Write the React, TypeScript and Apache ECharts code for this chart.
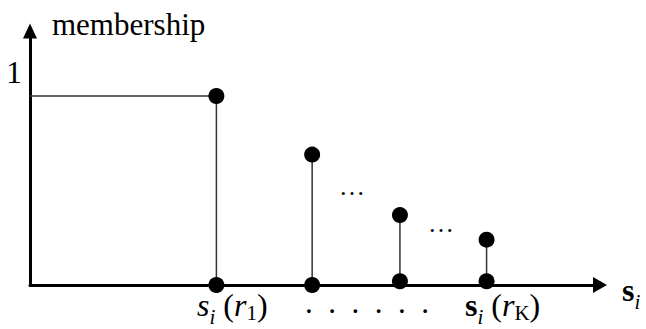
import React, { useEffect, useRef } from "react";
import * as echarts from "echarts";

// positions of the sampled points along the s axis (arbitrary units 0..100)
const stemX = [32.7, 49.5, 64.9, 80.1];
// membership values at the top of each stem
const topValues = [1, 0.69, 0.37, 0.24];
// dots drawn on / near the s axis
const baseValues = [0, 0, 0.02, 0.02];
const yTickLabels = ["1"];
const yLabelValue = 1;

const FONT = "'Liberation Serif', 'Times New Roman', serif";

export default function App() {
  const ref = useRef<HTMLDivElement>(null);
  useEffect(() => {
    if (!ref.current) return;
    const chart = echarts.init(ref.current, null, { renderer: "svg" });
    const topPts = stemX.map((x, i) => [x, topValues[i]]);
    const basePts = stemX.map((x, i) => [x, baseValues[i]]);
    const sub = { fontFamily: FONT, fontSize: 21, fontStyle: "italic", color: "#000", verticalAlign: "bottom", lineHeight: 22, padding: [0, 0, -5, 0] };
    const subN = { fontFamily: FONT, fontSize: 21, color: "#000", verticalAlign: "bottom", lineHeight: 22, padding: [0, 0, -1, 0] };
    const rich = {
      si: { fontFamily: FONT, fontSize: 32, fontStyle: "italic", color: "#000", lineHeight: 34 },
      sb: { fontFamily: FONT, fontSize: 32, fontWeight: "bold", color: "#000", lineHeight: 34 },
      n: { fontFamily: FONT, fontSize: 32, color: "#000", lineHeight: 34 },
      r: { fontFamily: FONT, fontSize: 32, fontStyle: "italic", color: "#000", lineHeight: 34 },
      sub,
      subN,
    };
    chart.setOption({
      animation: false,
      grid: { left: 30, right: 46, top: 31, bottom: 44 },
      xAxis: {
        type: "value",
        min: 0,
        max: 100,
        splitLine: { show: false },
        axisTick: { show: false },
        axisLabel: { show: false },
        axisLine: {
          show: true,
          onZero: false,
          symbol: ["none", "triangle"],
          symbolSize: [16, 14],
          lineStyle: { color: "#000", width: 3 },
        },
      },
      yAxis: {
        type: "value",
        min: 0,
        max: 1.344,
        interval: 1,
        splitLine: { show: false },
        axisTick: { show: false },
        axisLabel: {
          showMaxLabel: false,
          margin: 8,
          fontFamily: FONT,
          fontSize: 32,
          color: "#000",
          verticalAlign: "bottom",
          lineHeight: 32,
          padding: [0, 0, 8, 0],
          formatter: (v: number) => (v === yLabelValue ? yTickLabels[0] : ""),
        },
        axisLine: {
          show: true,
          onZero: false,
          symbol: ["none", "triangle"],
          symbolSize: [14, 15],
          lineStyle: { color: "#000", width: 3 },
        },
      },
      series: [
        {
          type: "line",
          data: [[0, topValues[0]], [stemX[0], topValues[0]]],
          symbol: "none",
          lineStyle: { color: "#333", width: 1.5 },
          z: 1,
        },
        {
          type: "custom",
          data: stemX.map((x, i) => [x, topValues[i], baseValues[i]]),
          renderItem: (params: any, api: any) => {
            const a = api.coord([api.value(0), api.value(2)]);
            const b = api.coord([api.value(0), api.value(1)]);
            return {
              type: "line",
              shape: { x1: a[0], y1: a[1], x2: b[0], y2: b[1] },
              style: { stroke: "#333", lineWidth: 1.5 },
            };
          },
          z: 1,
        },
        {
          type: "scatter",
          data: topPts,
          symbol: "circle",
          symbolSize: 16,
          itemStyle: { color: "#000", opacity: 1 },
          z: 3,
        },
        {
          type: "scatter",
          data: basePts,
          symbol: "circle",
          symbolSize: 16,
          itemStyle: { color: "#000", opacity: 1 },
          z: 3,
        },
      ],
      graphic: [
        {
          type: "text",
          x: 52,
          y: 24,
          style: { text: "membership", font: `31px ${FONT}`, fill: "#000", verticalAlign: "middle" },
        },
        {
          type: "text",
          x: 197,
          y: 305,
          style: { text: "{si|s}{sub|i}{n| (}{r|r}{subN|1}{n|)}", rich, verticalAlign: "middle" },
        },
        {
          type: "text",
          x: 305,
          y: 302,
          style: { text: ".  .  .  .  .  .", font: `31px ${FONT}`, fill: "#000", verticalAlign: "middle" },
        },
        {
          type: "text",
          x: 465,
          y: 305,
          style: { text: "{sb|s}{sub|i}{n| (}{r|r}{subN|K}{n|)}", rich, verticalAlign: "middle" },
        },
        {
          type: "text",
          x: 622,
          y: 290,
          style: { text: "{sb|s}{sub|i}", rich, verticalAlign: "middle" },
        },
        {
          type: "text",
          x: 339,
          y: 186,
          style: { text: "\u2026", font: `26px ${FONT}`, fill: "#000", verticalAlign: "middle" },
        },
        {
          type: "text",
          x: 428,
          y: 223,
          style: { text: "\u2026", font: `26px ${FONT}`, fill: "#000", verticalAlign: "middle" },
        },
      ],
    });
    return () => chart.dispose();
  }, []);
  return <div ref={ref} style={{ width: 646, height: 329, position: "absolute", left: 0, top: 0 }} />;
}
